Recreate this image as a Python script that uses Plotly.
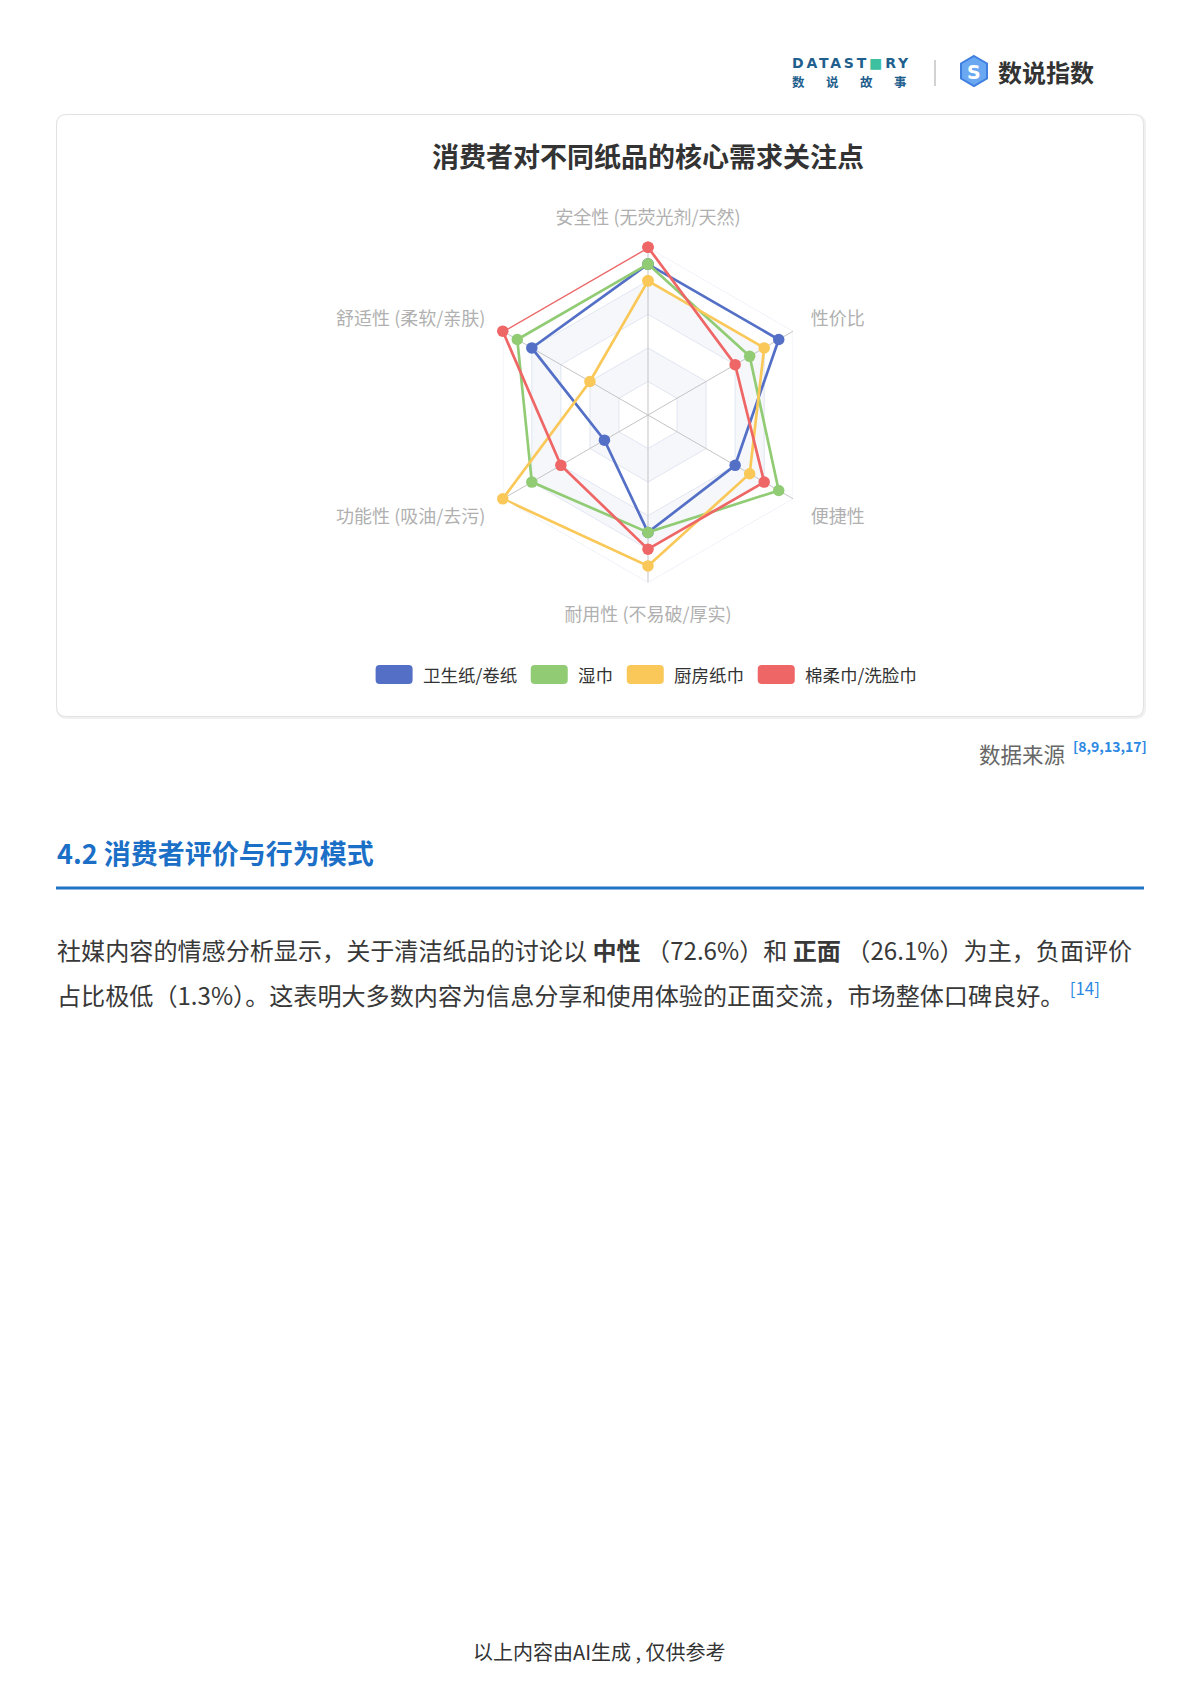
import plotly.graph_objects as go

W, H = 1200, 1698
FONT = "Noto Sans CJK SC"

# ---------------- data ----------------
indicators = ["安全性 (无荧光剂/天然)", "舒适性 (柔软/亲肤)", "功能性 (吸油/去污)",
              "耐用性 (不易破/厚实)", "便捷性", "性价比"]
series_names = ["卫生纸/卷纸", "湿巾", "厨房纸巾", "棉柔巾/洗脸巾"]
toilet_paper = [9, 8, 3, 7, 6, 9]
wet_wipes = [9, 9, 8, 7, 9, 7]
kitchen_towel = [8, 4, 10, 9, 7, 8]
cotton_towel = [10, 10, 6, 8, 8, 6]
series_values = [toilet_paper, wet_wipes, kitchen_towel, cotton_towel]
radar_max = 10
split_levels = [10, 8, 6, 4, 2]

chart_title = "消费者对不同纸品的核心需求关注点"
source_label = "数据来源"
source_refs = "[8,9,13,17]"
section_title = "4.2 消费者评价与行为模式"
para_line1 = ("社媒内容的情感分析显示，关于清洁纸品的讨论以 <b>中性</b> （72.6%）和 "
              "<b>正面</b> （26.1%）为主，负面评价")
para_line2 = "占比极低（1.3%）。这表明大多数内容为信息分享和使用体验的正面交流，市场整体口碑良好。"
para_ref = "[14]"
footer_text = "以上内容由AI生成 , 仅供参考"

# ---------------- styles ----------------
colors = ["#5470c6", "#91cc75", "#fac858", "#ee6666"]
band_colors = ["#ffffff", "#f6f7fb"]
split_line_color = "#e0e6f1"
spoke_color = "#c4c4c4"

fig = go.Figure()

# radar geometry (pixels)
cx, cy, R = 648, 415, 167.7
dom_x = [(cx - R) / W, (cx + R) / W]
dom_y = [1 - (cy + R) / H, 1 - (cy - R) / H]

closed_theta = indicators + [indicators[0]]

# split areas (alternating bands)
for i, lvl in enumerate(split_levels):
    idx = (len(split_levels) - 1 - i) % 2
    fig.add_trace(go.Scatterpolar(
        r=[lvl] * (len(indicators) + 1), theta=closed_theta, mode="lines",
        fill="toself", fillcolor=band_colors[idx], line=dict(width=0),
        hoverinfo="skip", showlegend=False))
# split lines
for lvl in split_levels:
    fig.add_trace(go.Scatterpolar(
        r=[lvl] * (len(indicators) + 1), theta=closed_theta, mode="lines",
        line=dict(color=split_line_color, width=1), hoverinfo="skip", showlegend=False))
# spokes
for ind in indicators:
    fig.add_trace(go.Scatterpolar(
        r=[0, radar_max], theta=[ind, ind], mode="lines",
        line=dict(color=spoke_color, width=1), hoverinfo="skip", showlegend=False))
# series
for name, vals, col in zip(series_names, series_values, colors):
    fig.add_trace(go.Scatterpolar(
        r=vals + [vals[0]], theta=closed_theta, mode="lines+markers", name=name,
        line=dict(color=col, width=2.7), marker=dict(color=col, size=11.5),
        showlegend=False))

fig.update_layout(
    width=W, height=H, margin=dict(l=0, r=0, t=0, b=0),
    paper_bgcolor="white", plot_bgcolor="white",
    font=dict(family=FONT),
    xaxis=dict(range=[0, W], domain=[0, 1], visible=False, fixedrange=True),
    yaxis=dict(range=[H, 0], domain=[0, 1], visible=False, fixedrange=True),
    polar=dict(
        domain=dict(x=dom_x, y=dom_y), gridshape="linear", bgcolor="rgba(0,0,0,0)",
        radialaxis=dict(range=[0, radar_max], visible=False),
        angularaxis=dict(categoryorder="array", categoryarray=indicators,
                         rotation=90, direction="counterclockwise",
                         showgrid=False, showline=False, ticks="outside", ticklen=16,
                         tickcolor="rgba(0,0,0,0)",
                         tickfont=dict(family=FONT, size=18, color="#b0b0b0")),
    ),
    showlegend=False,
)


def rrect(x0, y0, x1, y1, r):
    return (f"M {x0 + r},{y0} L {x1 - r},{y0} Q {x1},{y0} {x1},{y0 + r} "
            f"L {x1},{y1 - r} Q {x1},{y1} {x1 - r},{y1} L {x0 + r},{y1} "
            f"Q {x0},{y1} {x0},{y1 - r} L {x0},{y0 + r} Q {x0},{y0} {x0 + r},{y0} Z")


shapes = []
annos = []

# card
shapes.append(dict(type="path", xref="x", yref="y", layer="below",
                   path=rrect(57.5, 115.5, 1144.5, 717.5, 10),
                   line=dict(color="#f0f0f0", width=3), fillcolor="rgba(0,0,0,0)"))
shapes.append(dict(type="path", xref="x", yref="y", layer="below",
                   path=rrect(56.5, 114.5, 1143.5, 716.5, 10),
                   line=dict(color="#e2e2e2", width=1), fillcolor="white"))

# title
annos.append(dict(x=cx, y=155, xref="x", yref="y", text=f"<b>{chart_title}</b>",
                  showarrow=False, xanchor="center", yanchor="middle",
                  font=dict(family=FONT, size=27, color="#333333")))

# custom legend
leg_fs = 17.5


def text_w(s, fs):
    w = 0
    for ch in s:
        w += 0.38 if ch == "/" else 1.0
    return w * fs


sw_w, sw_h, gap_t, gap_i = 37, 19, 8, 16
total = sum(sw_w + gap_t + text_w(n, leg_fs) for n in series_names) + gap_i * (len(series_names) - 1)
x = cx - total / 2 - 3
ly = 674.5
for name, col in zip(series_names, colors):
    shapes.append(dict(type="path", xref="x", yref="y",
                       path=rrect(x, ly - sw_h / 2, x + sw_w, ly + sw_h / 2, 4),
                       line=dict(width=0), fillcolor=col))
    annos.append(dict(x=x + sw_w + gap_t, y=ly, xref="x", yref="y", text=name,
                      showarrow=False, xanchor="left", yanchor="middle",
                      font=dict(family=FONT, size=leg_fs, color="#333333")))
    x += sw_w + gap_t + text_w(name, leg_fs) + gap_i

# source line
annos.append(dict(x=1067, y=753, xref="x", yref="y", text=source_label, showarrow=False,
                  xanchor="right", yanchor="middle",
                  font=dict(family=FONT, size=21.5, color="#666666")))
annos.append(dict(x=1071, y=746, xref="x", yref="y", text=f"<b>{source_refs}</b>",
                  showarrow=False, xanchor="left", yanchor="middle",
                  font=dict(family=FONT, size=14, color="#2b88e3")))

# section heading
annos.append(dict(x=55, y=852, xref="x", yref="y", text=f"<b>{section_title}</b>",
                  showarrow=False, xanchor="left", yanchor="middle",
                  font=dict(family=FONT, size=27, color="#1b6fc6")))
shapes.append(dict(type="line", xref="x", yref="y", x0=56, x1=1144, y0=888, y1=888,
                   line=dict(color="#1f74c6", width=3)))

# paragraph
annos.append(dict(x=55, y=949, xref="x", yref="y", text=para_line1, showarrow=False,
                  xanchor="left", yanchor="middle",
                  font=dict(family=FONT, size=24.1, color="#383838")))
annos.append(dict(x=55, y=993, xref="x", yref="y",
                  text=para_line2 + f" <sup><span style='color:#2b88e3'>{para_ref}</span></sup>",
                  showarrow=False, xanchor="left", yanchor="middle",
                  font=dict(family=FONT, size=24.1, color="#383838")))

# footer
annos.append(dict(x=599, y=1651, xref="x", yref="y", text=footer_text, showarrow=False,
                  xanchor="center", yanchor="middle",
                  font=dict(family=FONT, size=20, color="#333333")))

# header logos
annos.append(dict(x=790, y=63, xref="x", yref="y",
                  text="<b><span style='letter-spacing:2.8px'>DATAST<span style='color:#3cc0a0'>■</span>RY</span></b>",
                  showarrow=False, xanchor="left", yanchor="middle",
                  font=dict(family="DejaVu Sans", size=14, color="#1f5f8e")))
for ch, xx in zip("数说故事", [798, 832, 866, 900]):
    annos.append(dict(x=xx, y=81, xref="x", yref="y", text=f"<b>{ch}</b>", showarrow=False,
                      xanchor="center", yanchor="middle",
                      font=dict(family=FONT, size=12.5, color="#1f5f8e")))
shapes.append(dict(type="line", xref="x", yref="y", x0=935, x1=935, y0=60, y1=86,
                   line=dict(color="#d2d2d2", width=2)))
hx, hy, hr = 974, 71, 15
hexpts = [(hx, hy - hr), (hx + 0.866 * hr, hy - hr / 2), (hx + 0.866 * hr, hy + hr / 2),
          (hx, hy + hr), (hx - 0.866 * hr, hy + hr / 2), (hx - 0.866 * hr, hy - hr / 2)]
shapes.append(dict(type="path", xref="x", yref="y",
                   path="M " + " L ".join(f"{a},{b}" for a, b in hexpts) + " Z",
                   line=dict(color="#3f7fe0", width=2), fillcolor="#6aa8f2"))
annos.append(dict(x=hx, y=hy + 1, xref="x", yref="y", text="<b>S</b>", showarrow=False,
                  xanchor="center", yanchor="middle",
                  font=dict(family="DejaVu Sans", size=19, color="white")))
annos.append(dict(x=996, y=71, xref="x", yref="y", text="<b>数说指数</b>", showarrow=False,
                  xanchor="left", yanchor="middle",
                  font=dict(family=FONT, size=24, color="#333333")))

fig.update_layout(shapes=shapes, annotations=annos)

fig.write_html("out.html", config={"displayModeBar": False},
               post_script="document.body.style.margin='0';")
